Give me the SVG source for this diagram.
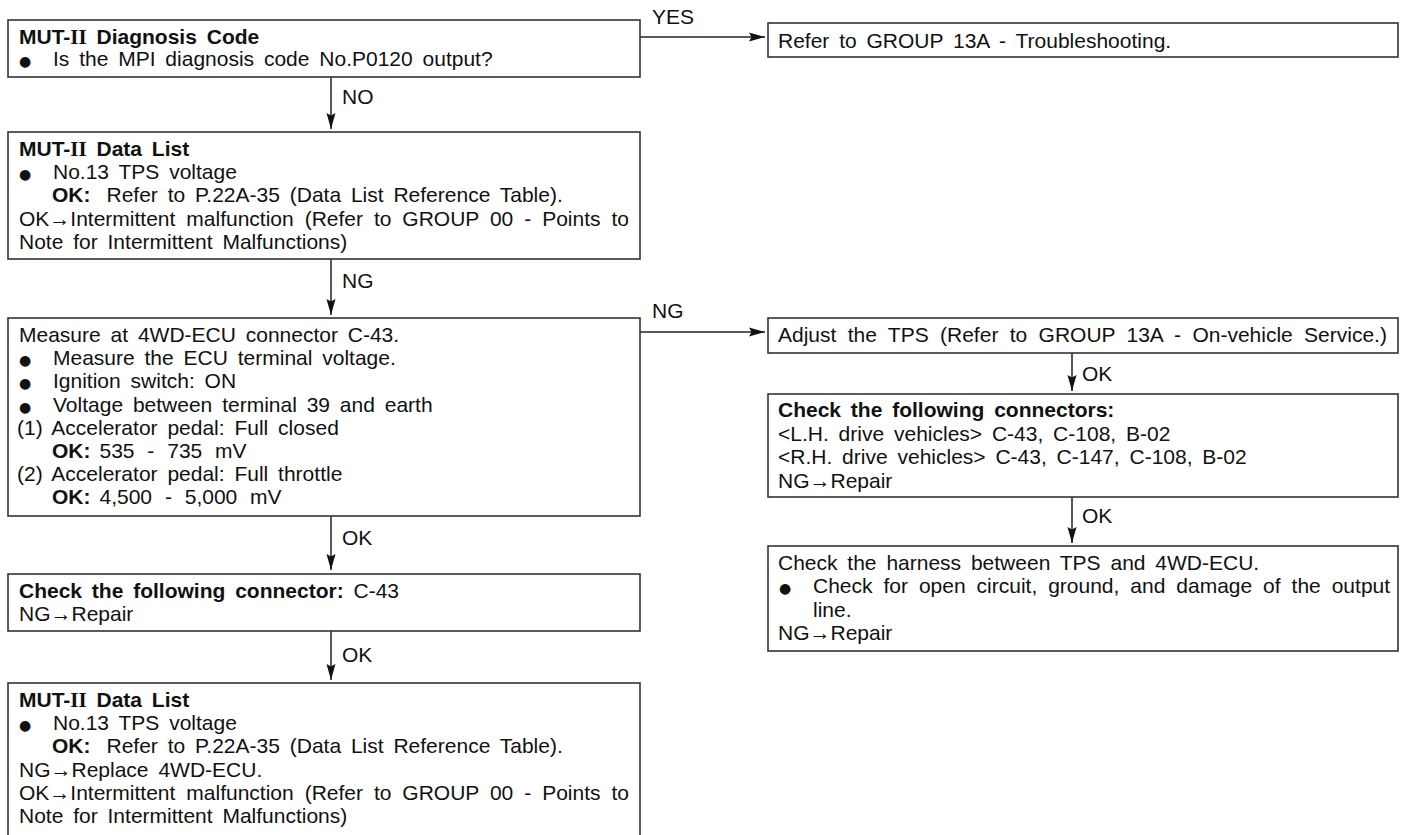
<svg xmlns="http://www.w3.org/2000/svg" width="1407" height="835" viewBox="0 0 1407 835">
  <style>
    .t { font-family: "Liberation Sans", Arial, sans-serif; font-size: 21px; fill: #111; word-spacing: 4px; }
    .b { font-weight: bold; }
    .r { font-family: "Liberation Serif", "Times New Roman", serif; font-weight: bold; }
    .bul { font-family: "DejaVu Sans", sans-serif; font-size: 14px; fill: #111; text-anchor: middle; }
    .box { fill: #fff; stroke: #333; stroke-width: 1.6; }
    .ln { stroke: #222; stroke-width: 1.5; fill: none; marker-end: url(#ah); }
  </style>
  <defs>
    <marker id="ah" markerUnits="userSpaceOnUse" markerWidth="17" markerHeight="10" refX="16" refY="5" orient="auto">
      <path d="M0,0.5 L16,5 L0,9.5 L2.5,5 Z" fill="#111"/>
    </marker>
  </defs>
  <rect width="1407" height="835" fill="#fff"/>

  <!-- connectors and their labels -->
  <g id="connectors">
    <path class="ln" d="M640,37 H765"/>
    <path class="ln" d="M331,77 V129"/>
    <path class="ln" d="M331,259 V315"/>
    <path class="ln" d="M640,332 H765"/>
    <path class="ln" d="M331,516 V570"/>
    <path class="ln" d="M331,631 V680"/>
    <path class="ln" d="M1072,353 V391"/>
    <path class="ln" d="M1072,497 V543"/>
    <text class="t" x="652" y="24">YES</text>
    <text class="t" x="342" y="104">NO</text>
    <text class="t" x="342" y="288">NG</text>
    <text class="t" x="652" y="318">NG</text>
    <text class="t" x="342" y="545">OK</text>
    <text class="t" x="342" y="662">OK</text>
    <text class="t" x="1082" y="381">OK</text>
    <text class="t" x="1082" y="523">OK</text>
  </g>

  <!-- diagnosis code check -->
  <g id="diag-code">
    <rect class="box" x="8" y="20" width="632" height="57"/>
    <text class="t b" x="19" y="43.5">MUT-<tspan class="r">II</tspan> Diagnosis Code</text>
    <text class="bul" x="25" y="66">●</text>
    <text class="t" x="53" y="66">Is the MPI diagnosis code No.P0120 output?</text>
  </g>

  <g id="troubleshooting">
    <rect class="box" x="768" y="23" width="630" height="34"/>
    <text class="t" x="778" y="47.5">Refer to GROUP 13A - Troubleshooting.</text>
  </g>

  <!-- first data list check -->
  <g id="data-list-1">
    <rect class="box" x="8" y="132" width="632" height="127"/>
    <text class="t b" x="19" y="156">MUT-<tspan class="r">II</tspan> Data List</text>
    <text class="bul" x="25" y="179.2">●</text>
    <text class="t" x="53" y="179.2">No.13 TPS voltage</text>
    <text class="t" x="52" y="202.4"><tspan class="b">OK:</tspan><tspan dx="16">Refer to P.22A-35 (Data List Reference Table).</tspan></text>
    <text class="t" x="19" y="225.6" style="word-spacing:5.1px">OK→Intermittent malfunction (Refer to GROUP 00 - Points to</text>
    <text class="t" x="19" y="248.8">Note for Intermittent Malfunctions)</text>
  </g>

  <!-- ECU terminal voltage -->
  <g id="ecu-voltage">
    <rect class="box" x="8" y="318" width="632" height="198"/>
    <text class="t" x="19" y="342">Measure at 4WD-ECU connector C-43.</text>
    <text class="bul" x="25" y="365.2">●</text>
    <text class="t" x="53" y="365.2">Measure the ECU terminal voltage.</text>
    <text class="bul" x="25" y="388.4">●</text>
    <text class="t" x="53" y="388.4">Ignition switch: ON</text>
    <text class="bul" x="25" y="411.6">●</text>
    <text class="t" x="53" y="411.6">Voltage between terminal 39 and earth</text>
    <text class="t" x="17" y="434.8">(1) Accelerator pedal: Full closed</text>
    <text class="t" x="52" y="458" style="word-spacing:7px"><tspan class="b">OK:</tspan><tspan dx="9">535 - 735 mV</tspan></text>
    <text class="t" x="17" y="481.2">(2) Accelerator pedal: Full throttle</text>
    <text class="t" x="52" y="504.4" style="word-spacing:7px"><tspan class="b">OK:</tspan><tspan dx="9">4,500 - 5,000 mV</tspan></text>
  </g>

  <g id="connector-c43">
    <rect class="box" x="8" y="574" width="632" height="57"/>
    <text class="t" x="19" y="598"><tspan class="b">Check the following connector:</tspan> C-43</text>
    <text class="t" x="19" y="621">NG→Repair</text>
  </g>

  <!-- second data list check, runs past the bottom edge -->
  <g id="data-list-2">
    <rect class="box" x="8" y="683" width="632" height="170"/>
    <text class="t b" x="19" y="707">MUT-<tspan class="r">II</tspan> Data List</text>
    <text class="bul" x="25" y="730.2">●</text>
    <text class="t" x="53" y="730.2">No.13 TPS voltage</text>
    <text class="t" x="52" y="753.4"><tspan class="b">OK:</tspan><tspan dx="16">Refer to P.22A-35 (Data List Reference Table).</tspan></text>
    <text class="t" x="19" y="776.6">NG→Replace 4WD-ECU.</text>
    <text class="t" x="19" y="799.8" style="word-spacing:5.1px">OK→Intermittent malfunction (Refer to GROUP 00 - Points to</text>
    <text class="t" x="19" y="823">Note for Intermittent Malfunctions)</text>
  </g>

  <g id="adjust-tps">
    <rect class="box" x="768" y="318" width="630" height="35"/>
    <text class="t" x="778" y="342" style="word-spacing:5.5px">Adjust the TPS (Refer to GROUP 13A - On-vehicle Service.)</text>
  </g>

  <g id="connectors-check">
    <rect class="box" x="768" y="394" width="630" height="103"/>
    <text class="t b" x="778" y="417">Check the following connectors:</text>
    <text class="t" x="778" y="440.5">&lt;L.H. drive vehicles&gt; C-43, C-108, B-02</text>
    <text class="t" x="778" y="464">&lt;R.H. drive vehicles&gt; C-43, C-147, C-108, B-02</text>
    <text class="t" x="778" y="487.5">NG→Repair</text>
  </g>

  <g id="harness-check">
    <rect class="box" x="768" y="546" width="630" height="105"/>
    <text class="t" x="778" y="569.5">Check the harness between TPS and 4WD-ECU.</text>
    <text class="bul" x="785" y="593">●</text>
    <text class="t" x="813" y="593" style="word-spacing:5.1px">Check for open circuit, ground, and damage of the output</text>
    <text class="t" x="813" y="616.5">line.</text>
    <text class="t" x="778" y="640">NG→Repair</text>
  </g>
</svg>
